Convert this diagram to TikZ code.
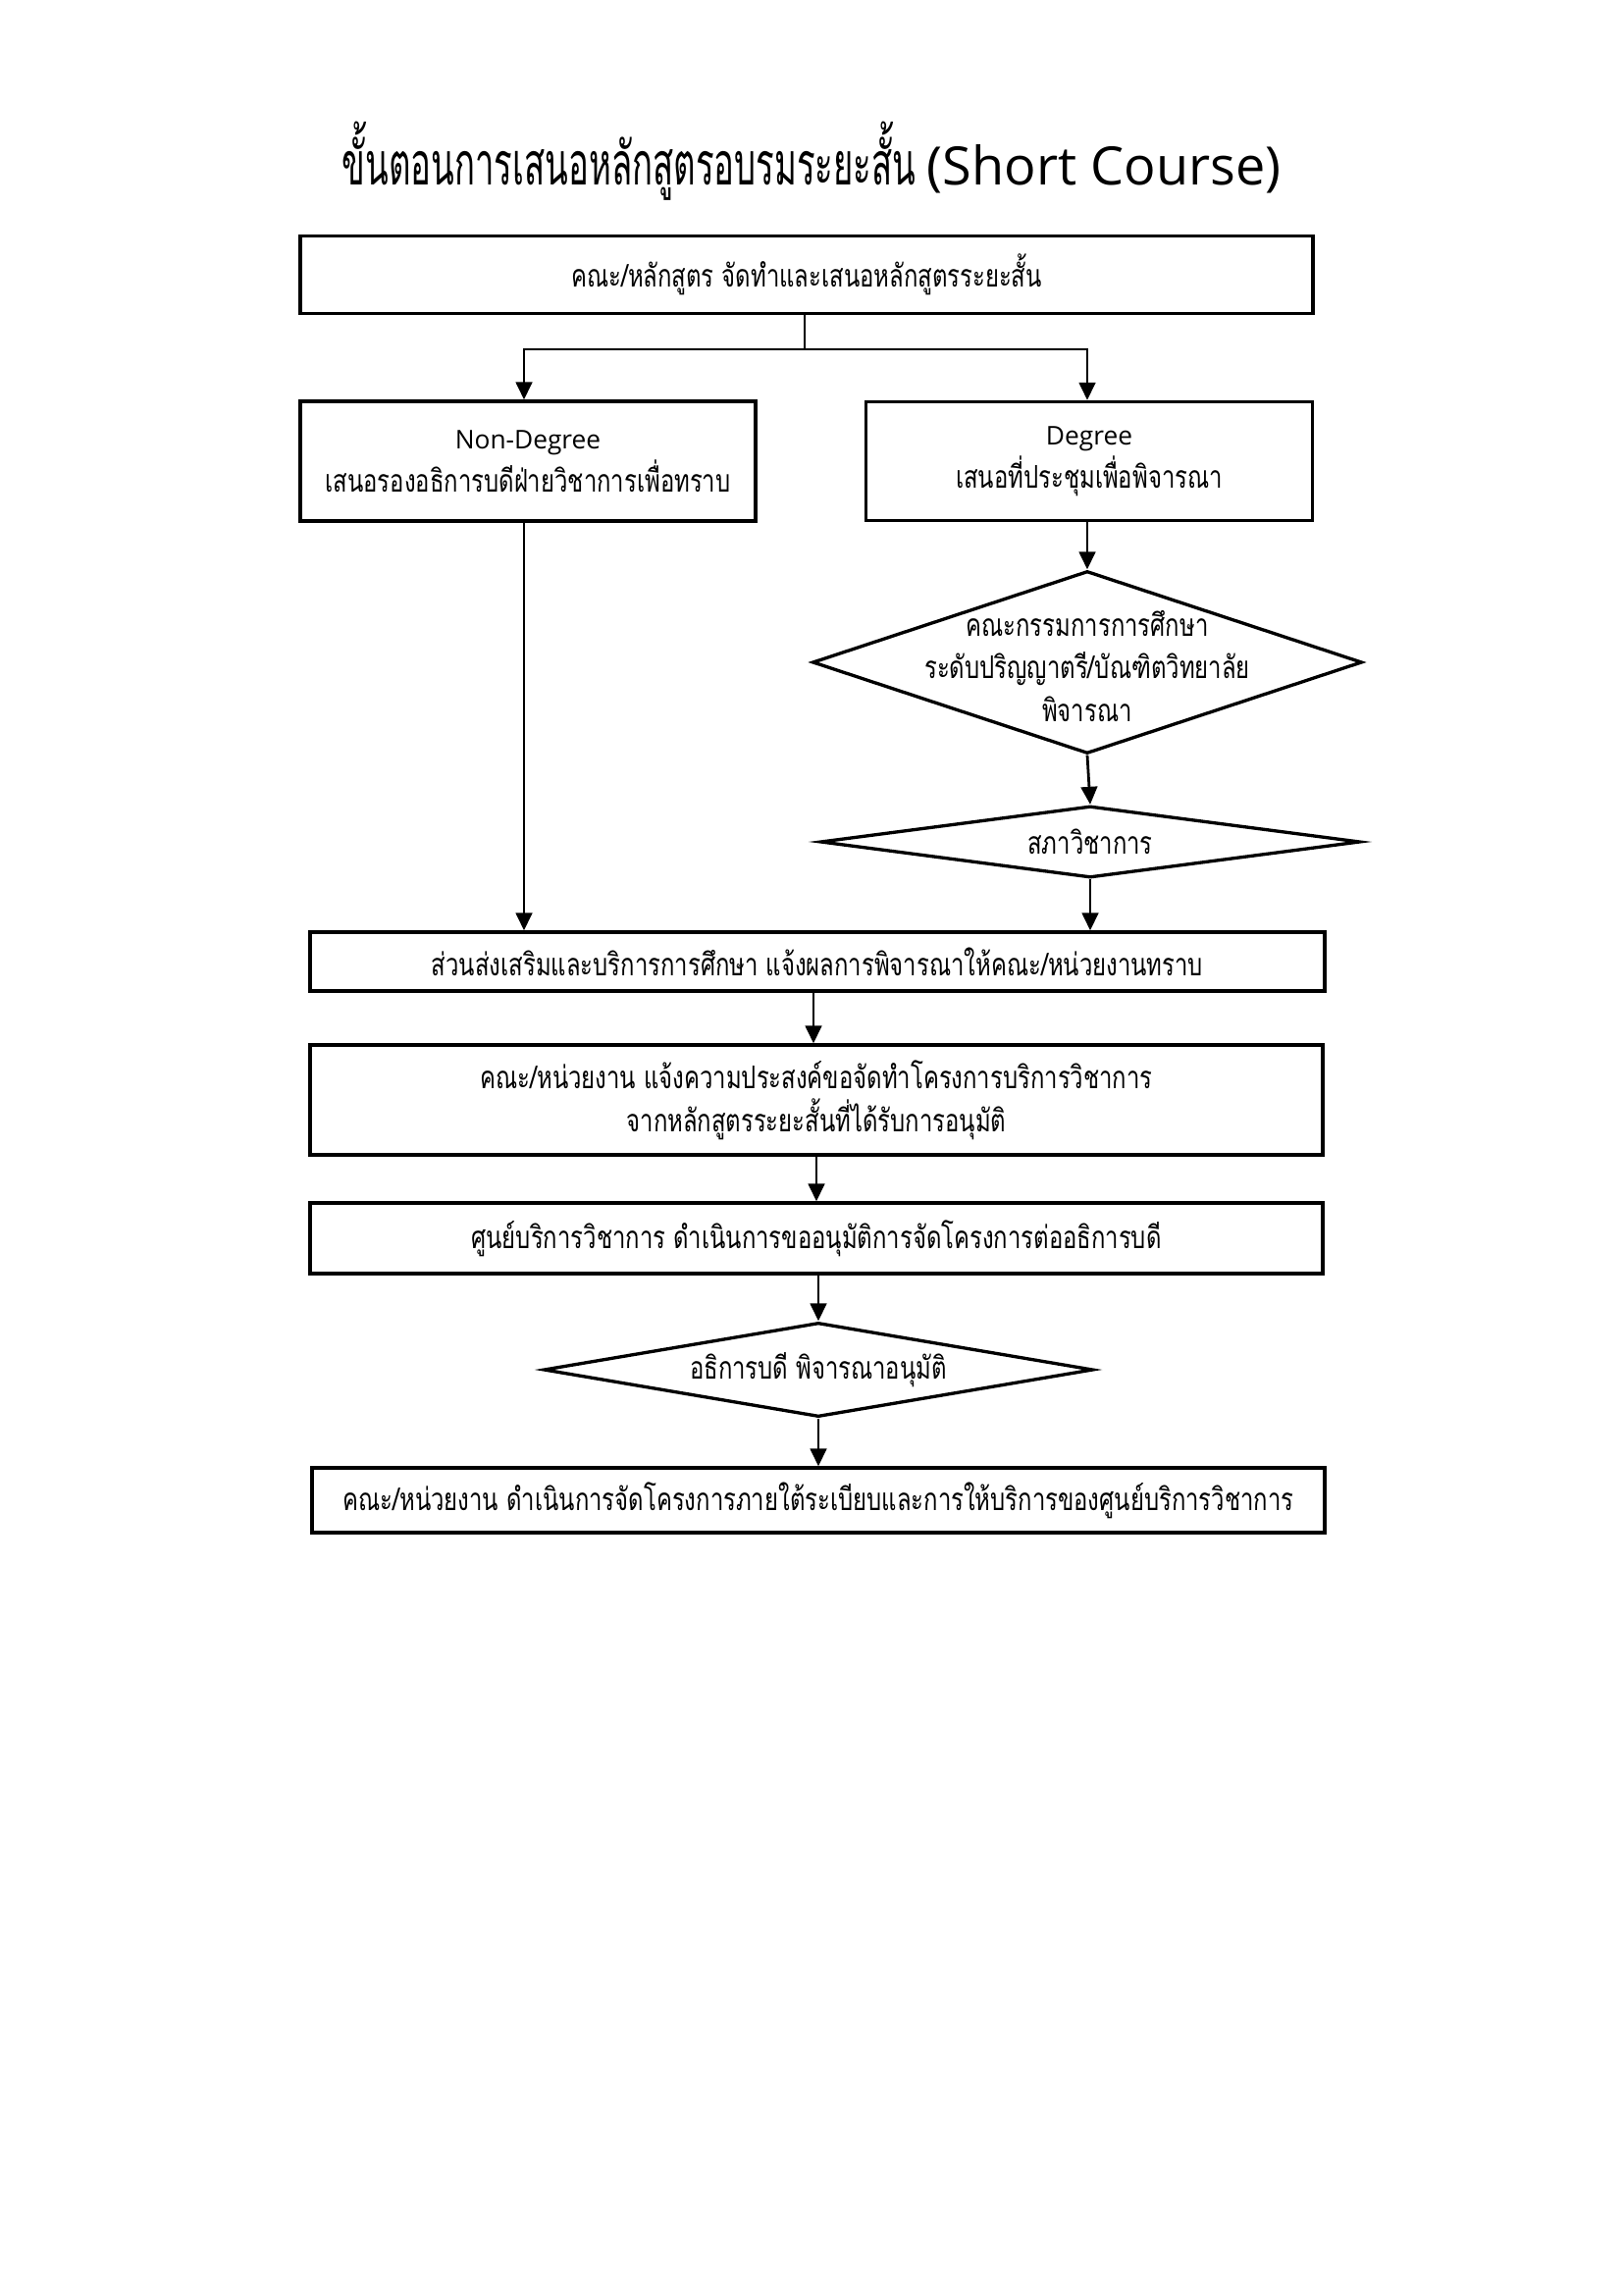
\documentclass[tikz,border=0pt]{standalone}
\usepackage{fontspec}
\usetikzlibrary{arrows.meta,shapes.geometric}
\newfontfamily\thaifont[Script=Thai,FakeStretch=0.75]{Loma}
\newfontfamily\thaititle[Script=Thai,FakeStretch=0.57]{Loma}
\newfontfamily\latinfont{Open Sans}
\def\pxu{0.0126965cm}
\tikzset{
  box/.style={draw, line width=1.2pt, rectangle, inner sep=0pt, align=center,
    font={\thaifont\fontsize{11.5pt}{15.8pt}\selectfont}},
  dia/.style={draw, line width=1.2pt, diamond, inner sep=0pt, aspect=1},
  diatext/.style={inner sep=0pt, align=center,
    font={\thaifont\fontsize{11.5pt}{15.8pt}\selectfont}},
  arr/.style={-{Triangle[width=6pt,length=6.5pt]}, line width=1pt},
  thin/.style={line width=0.4pt},
}
\begin{document}
\begin{tikzpicture}[x=\pxu, y=-\pxu]
\useasboundingbox[fill=white] (0,0) rectangle (1654,2339);

\node[inner sep=0pt] (title) at (827,164)
  {\thaititle\fontsize{22pt}{26pt}\selectfont ขั้นตอนการเสนอหลักสูตรอบรมระยะสั้น {\latinfont\fontsize{19.5pt}{26pt}\selectfont (Short Course)}};

\node[box, minimum width={1032*\pxu}, minimum height={79*\pxu}] (top) at (822,280)
  {คณะ/หลักสูตร จัดทำและเสนอหลักสูตรระยะสั้น};

\node[box, minimum width={464*\pxu}, minimum height={122*\pxu}] (nondeg) at (538,470)
  {{\latinfont\fontsize{9.5pt}{12pt}\selectfont Non-Degree}\\ เสนอรองอธิการบดีฝ่ายวิชาการเพื่อทราบ};

\node[box, minimum width={455*\pxu}, minimum height={121*\pxu}] (deg) at (1110,470)
  {{\latinfont\fontsize{9.5pt}{12pt}\selectfont Degree}\\ เสนอที่ประชุมเพื่อพิจารณา};

\node[dia, minimum width={560*\pxu}, minimum height={186*\pxu}] (d1) at (1108,675) {};
\node[diatext] (d1t) at (1108,679)
  {คณะกรรมการการศึกษา\\ ระดับปริญญาตรี/บัณฑิตวิทยาลัย\\ พิจารณา};

\node[dia, minimum width={550*\pxu}, minimum height={73*\pxu}] (d2) at (1111,858) {};
\node[diatext] (d2t) at (1111,858) {สภาวิชาการ};

\node[box, minimum width={1034*\pxu}, minimum height={60*\pxu}] (inform) at (833,980)
  {ส่วนส่งเสริมและบริการการศึกษา แจ้งผลการพิจารณาให้คณะ/หน่วยงานทราบ};

\node[box, minimum width={1032*\pxu}, minimum height={112*\pxu}] (wish) at (832,1121)
  {คณะ/หน่วยงาน แจ้งความประสงค์ขอจัดทำโครงการบริการวิชาการ\\ จากหลักสูตรระยะสั้นที่ได้รับการอนุมัติ};

\node[box, minimum width={1032*\pxu}, minimum height={72*\pxu}] (center) at (832,1262)
  {ศูนย์บริการวิชาการ ดำเนินการขออนุมัติการจัดโครงการต่ออธิการบดี};

\node[dia, minimum width={560*\pxu}, minimum height={96*\pxu}] (d3) at (834,1396) {};
\node[diatext] (d3t) at (834,1396) {อธิการบดี พิจารณาอนุมัติ};

\node[box, minimum width={1032*\pxu}, minimum height={66*\pxu}] (final) at (834,1529)
  {คณะ/หน่วยงาน ดำเนินการจัดโครงการภายใต้ระเบียบและการให้บริการของศูนย์บริการวิชาการ};

% connectors
\coordinate (split) at (820,356);
\coordinate (sl) at (534,356);
\coordinate (sr) at (1108,356);
\coordinate (iw) at (829,0);
\draw[thin] (top.south -| split) -- (split);
\draw[arr] (split) -| (sl |- nondeg.north);
\draw[arr] (split) -| (sr |- deg.north);
\draw[arr] (nondeg.south -| sl) -- (sl |- inform.north);
\draw[arr] (deg.south -| d1.north) -- (d1.north);
\draw[arr] (d1.south) -- (d2.north);
\draw[arr] (d2.south) -- (d2.south |- inform.north);
\draw[arr] (inform.south -| iw) -- (wish.north -| iw);
\draw[arr] (wish.south) -- (center.north);
\draw[arr] (center.south -| d3.north) -- (d3.north);
\draw[arr] (d3.south) -- (d3.south |- final.north);
\end{tikzpicture}
\end{document}
